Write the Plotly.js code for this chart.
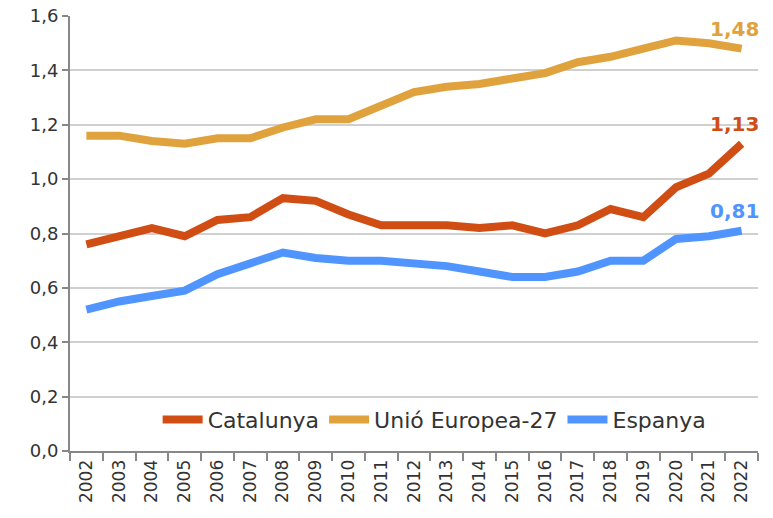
<!DOCTYPE html>
<html><head><meta charset="utf-8">
<script src="https://cdn.plot.ly/plotly-3.0.1.min.js"></script>
<style>html,body{margin:0;padding:0;background:#fff}#c{width:773px;height:518px}</style>
</head><body><div id="c"></div>
<script>
const years = ['2002','2003','2004','2005','2006','2007','2008','2009','2010','2011','2012','2013','2014','2015','2016','2017','2018','2019','2020','2021','2022'];
const catalunya = [0.76,0.79,0.82,0.79,0.85,0.86,0.93,0.92,0.87,0.83,0.83,0.83,0.82,0.83,0.80,0.83,0.89,0.86,0.97,1.02,1.13];
const ue27 = [1.16,1.16,1.14,1.13,1.15,1.15,1.19,1.22,1.22,1.27,1.32,1.34,1.35,1.37,1.39,1.43,1.45,1.48,1.51,1.50,1.48];
const espanya = [0.52,0.55,0.57,0.59,0.65,0.69,0.73,0.71,0.70,0.70,0.69,0.68,0.66,0.64,0.64,0.66,0.70,0.70,0.78,0.79,0.81];
const names = ['Catalunya','Unió Europea-27','Espanya'];
const colors = ['#D04E14','#E0A23C','#5095FF'];
const series = [catalunya, ue27, espanya];

const traces = series.map((s,i)=>({
  x: years, y: s, name: names[i], type:'scatter', mode:'lines',
  line:{color:colors[i], width:8}
}));
const fmt = v => v.toFixed(2).replace('.',',');
const annotations = series.map((s,i)=>({
  xref:'x', yref:'y',
  x: s.length-1, y: s[s.length-1], text: '<b>'+fmt(s[s.length-1])+'</b>',
  showarrow:false, yshift:20, xshift:-7, xanchor:'center', yanchor:'middle',
  font:{color:colors[i], size:20, family:'DejaVu Sans, sans-serif'}
}));
const layout = {
  width:773, height:518,
  margin:{l:70, r:15, t:16, b:67},
  paper_bgcolor:'#fff', plot_bgcolor:'#fff',
  separators:',.',
  font:{family:'DejaVu Sans, sans-serif', color:'#333'},
  showlegend:true,
  legend:{orientation:'h', x:0.53, xanchor:'center', y:0.072, yanchor:'middle',
    font:{size:22, color:'#333'}, bgcolor:'rgba(0,0,0,0)', itemwidth:40, traceorder:'normal'},
  xaxis:{type:'category', showgrid:false, showline:true, linecolor:'#888', linewidth:2,
    ticks:'outside', tickson:'boundaries', ticklen:8, tickcolor:'#888', tickwidth:2,
    tickangle:-90, tickfont:{size:17, color:'#333'}, range:[-0.5,20.5]},
  yaxis:{range:[0,1.6], dtick:0.2, tickformat:'.1f', showgrid:true, gridcolor:'#d0d0d0', gridwidth:1.5,
    showline:true, linecolor:'#888', linewidth:2, ticks:'outside', ticklen:6, tickcolor:'#888', tickwidth:2,
    tickfont:{size:18, color:'#333'}, zeroline:false},
  annotations: annotations
};
Plotly.newPlot('c', traces, layout, {displayModeBar:false});
</script></body></html>
